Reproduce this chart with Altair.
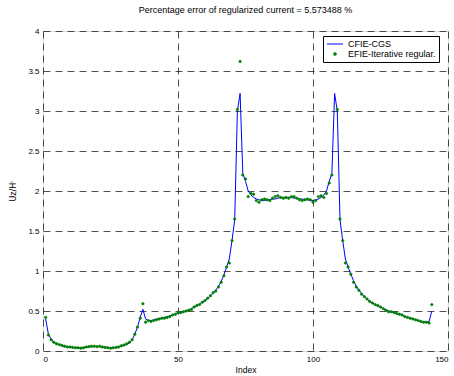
import altair as alt
import pandas as pd

title_text = "Percentage error of regularized current = 5.573488 %"
series_names = ["CFIE-CGS", "EFIE-Iterative regular."]
series_colors = ["#0000ff", "#008000"]
x_ticks = [0, 50, 100, 150]
y_ticks = [0, 0.5, 1, 1.5, 2, 2.5, 3, 3.5, 4]

index = list(range(1, 145))

cfie_cgs = [
    0.40, 0.21, 0.15, 0.11, 0.09, 0.08, 0.07, 0.06, 0.055, 0.05,
    0.045, 0.045, 0.04, 0.04, 0.045, 0.045, 0.05, 0.055, 0.055, 0.055,
    0.055, 0.05, 0.05, 0.045, 0.04, 0.04, 0.045, 0.05, 0.06, 0.07,
    0.08, 0.10, 0.14, 0.21, 0.30, 0.42, 0.52, 0.40, 0.38, 0.38,
    0.39, 0.40, 0.40, 0.41, 0.42, 0.43, 0.44, 0.45, 0.46, 0.47,
    0.48, 0.49, 0.50, 0.51, 0.53, 0.55, 0.57, 0.59, 0.61, 0.63,
    0.66, 0.69, 0.72, 0.76, 0.81, 0.87, 0.95, 1.05, 1.15, 1.38,
    1.64, 3.00, 3.22, 2.22, 2.12, 2.00, 1.95, 1.92, 1.90, 1.89,
    1.88, 1.88, 1.89, 1.89, 1.90, 1.90, 1.91, 1.92, 1.92, 1.92,
    1.92, 1.92, 1.91, 1.91, 1.90, 1.90, 1.89, 1.89, 1.88, 1.88,
    1.89, 1.90, 1.92, 1.95, 2.00, 2.12, 2.22, 3.22, 3.00, 1.64,
    1.38, 1.15, 1.05, 0.96, 0.88, 0.81, 0.76, 0.72, 0.68, 0.65,
    0.62, 0.60, 0.58, 0.56, 0.55, 0.53, 0.51, 0.50, 0.49, 0.48,
    0.47, 0.46, 0.45, 0.43, 0.42, 0.41, 0.40, 0.39, 0.38, 0.37,
    0.36, 0.36, 0.37, 0.50,
]

efie_iter = [
    0.42, 0.20, 0.14, 0.11, 0.09, 0.08, 0.07, 0.06, 0.05, 0.05,
    0.045, 0.04, 0.04, 0.035, 0.04, 0.05, 0.055, 0.06, 0.06, 0.055,
    0.06, 0.05, 0.045, 0.04, 0.035, 0.04, 0.045, 0.05, 0.065, 0.075,
    0.09, 0.11, 0.14, 0.21, 0.30, 0.41, 0.59, 0.36, 0.38, 0.37,
    0.38, 0.39, 0.40, 0.41, 0.41, 0.42, 0.43, 0.45, 0.46, 0.48,
    0.48, 0.49, 0.50, 0.51, 0.52, 0.55, 0.57, 0.58, 0.61, 0.63,
    0.66, 0.69, 0.73, 0.75, 0.80, 0.86, 0.94, 1.05, 1.10, 1.38,
    1.65, 3.02, 3.62, 2.20, 2.15, 1.93, 1.97, 1.96, 1.88, 1.86,
    1.89, 1.90, 1.89, 1.88, 1.91, 1.93, 1.94, 1.92, 1.91, 1.92,
    1.91, 1.93, 1.93, 1.91, 1.89, 1.88, 1.89, 1.90, 1.89, 1.86,
    1.88, 1.93, 1.94, 1.92, 1.97, 2.10, 2.20, 3.62, 3.02, 1.65,
    1.38, 1.10, 1.05, 0.96, 0.86, 0.80, 0.76, 0.71, 0.68, 0.65,
    0.62, 0.60, 0.58, 0.57, 0.55, 0.53, 0.51, 0.49, 0.49, 0.48,
    0.47, 0.46, 0.45, 0.43, 0.42, 0.41, 0.40, 0.39, 0.38, 0.37,
    0.36, 0.36, 0.35, 0.58,
]

line_df = pd.DataFrame({"index": index, "value": cfie_cgs, "series": series_names[0]})
pts_df = pd.DataFrame({"index": index, "value": efie_iter, "series": series_names[1]})

FONT = "Liberation Sans"

leg = alt.Legend(
    title=None, orient="none", legendX=280, legendY=5,
    strokeColor="black", fillColor="white", padding=3,
    labelFontSize=9, labelFont=FONT, labelColor="black",
    symbolStrokeWidth=1.2, rowPadding=0, labelLimit=250, clipHeight=10,
)

color_scale = alt.Scale(domain=series_names, range=series_colors)

x_enc = alt.X("index:Q", scale=alt.Scale(domain=[0, 150], nice=False),
              axis=alt.Axis(values=x_ticks, title="Index"))
y_enc = alt.Y("value:Q", scale=alt.Scale(domain=[0, 4], nice=False),
              axis=alt.Axis(values=y_ticks, format="~g", title="Uz/Hⁱ",
                            titleFont="DejaVu Sans", titleFontSize=8))

line = alt.Chart(line_df).mark_line(strokeWidth=1).encode(
    x=x_enc, y=y_enc,
    color=alt.Color("series:N", scale=color_scale, legend=leg),
)

pts = alt.Chart(pts_df).mark_point(filled=True, opacity=1, strokeWidth=0.6).encode(
    x=x_enc, y=y_enc,
    color=alt.Color("series:N", scale=color_scale, legend=leg),
    stroke=alt.Stroke("series:N", scale=color_scale, legend=leg),
    shape=alt.Shape("series:N", scale=alt.Scale(domain=series_names, range=["stroke", "circle"]), legend=leg),
    size=alt.Size("series:N", scale=alt.Scale(type="ordinal", domain=series_names, range=[260, 6]), legend=leg),
)

chart = alt.layer(line, pts).properties(
    width=405, height=320,
    title=alt.TitleParams(title_text, fontSize=9, font=FONT, fontWeight="normal",
                          offset=12, anchor="middle", color="black"),
    autosize=alt.AutoSizeParams(type="none"),
    padding={"left": 43, "top": 31, "right": 6, "bottom": 25},
).configure_view(
    stroke="black", strokeWidth=1, fill="white"
).configure(background="white").configure_axis(
    grid=True, gridDash=[7, 5], gridColor="black", gridOpacity=0.85, gridWidth=0.8,
    domain=False, ticks=False,
    labelFont=FONT, labelFontSize=8, labelColor="black", labelPadding=4,
    titleFont=FONT, titleFontSize=8.5, titleFontWeight="normal", titleColor="black",
).configure_axisX(titlePadding=2, labelPadding=4).configure_axisY(titlePadding=10)

chart.save("out.html", embed_options={"renderer": "svg", "actions": False})
